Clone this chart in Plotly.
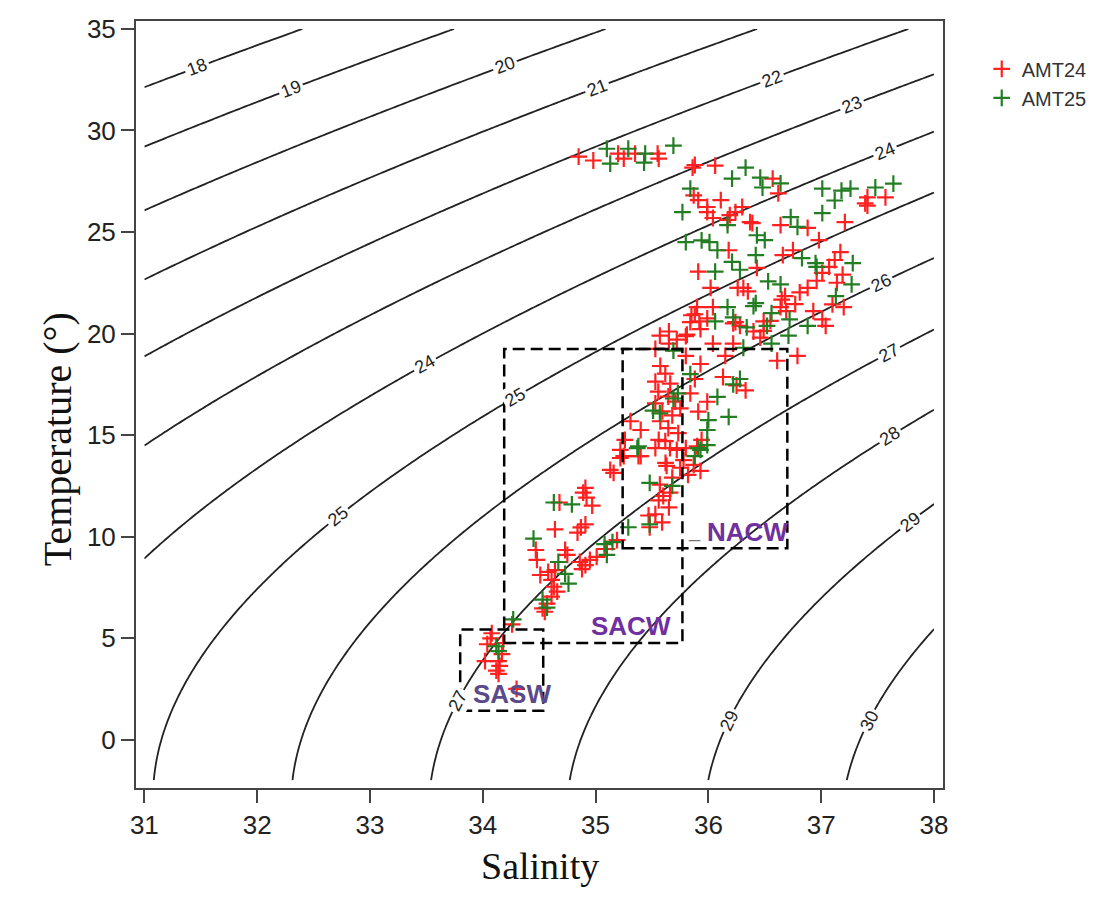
import math
import numpy as np
import plotly.graph_objects as go

# ---------------- data ----------------
amt24_sal = [
    34.85, 34.98, 35.20, 35.25, 35.35, 35.55, 35.56,
    35.86, 35.88, 36.06, 36.57, 36.62, 35.87, 35.91, 36.11, 35.99, 36.04, 36.19, 36.24, 36.17,
    36.30, 36.37, 36.39, 36.64, 36.88, 37.21, 37.41, 37.41, 37.57, 37.39, 36.98, 35.99,
    36.66, 36.75, 36.88, 36.96, 37.01, 37.07, 37.12, 37.17, 37.19, 37.14, 36.68, 36.77, 36.64,
    36.81, 36.31, 36.35, 36.26, 36.02, 35.91, 36.18, 36.43, 37.10, 37.20, 36.93, 37.01, 37.04,
    36.55, 36.22, 36.49, 36.04, 35.90, 36.24, 36.28, 36.49, 36.65, 36.69, 36.40, 36.46, 36.22,
    36.15, 36.04, 36.61, 36.79,
    35.85, 35.92, 35.99, 35.57, 35.65, 35.72, 35.81, 35.53, 35.65, 35.84, 35.93, 35.80, 35.88,
    35.93, 35.80, 35.88, 36.13, 36.33, 36.25, 35.99, 35.91, 35.94, 35.90,
    35.574, 35.618, 35.53, 35.662, 35.556, 35.645, 35.707, 35.53, 35.592, 35.68, 35.574, 35.645,
    35.733, 35.618, 35.53, 35.751, 35.84,
    35.31, 35.40, 35.26, 35.38, 35.22, 35.56, 35.72, 35.78, 35.63, 35.25, 35.13, 35.22,
    35.40, 35.66, 35.80, 35.16, 35.62, 35.75, 35.87, 35.68, 35.82, 35.93, 35.57, 35.66, 35.56,
    35.65, 35.53, 35.59, 35.48, 35.47, 35.60, 35.19, 35.08,
    34.68, 34.89, 34.92, 34.97, 34.91, 34.64, 34.84, 34.91, 34.87, 34.47, 34.48, 34.73, 34.75,
    34.51, 34.58, 34.64, 34.61, 34.63, 34.66, 34.61, 34.57, 34.55, 34.88, 34.95, 35.01, 34.91,
    35.10, 34.86, 34.53, 34.26, 34.08,
    34.07, 34.04, 34.18, 34.17, 34.02, 34.14, 34.15, 34.14, 34.12, 34.30,
]
amt24_temp = [
    28.71, 28.52, 28.86, 28.61, 28.86, 28.86, 28.61,
    28.17, 28.30, 28.27, 27.63, 26.90, 26.80, 26.57, 26.57, 25.98, 25.69, 25.83, 25.98, 25.59,
    26.23, 25.49, 25.44, 25.34, 25.20, 25.49, 26.70, 26.30, 26.70, 26.41, 24.60, 26.23,
    23.86, 24.10, 22.25, 22.60, 22.99, 23.28, 23.62, 24.01, 22.90, 22.50, 21.84, 21.45, 21.30,
    22.03, 22.25, 22.08, 22.25, 22.25, 23.05, 24.10, 23.23, 21.44, 21.30, 21.10, 20.70, 20.38,
    20.62, 20.50, 20.13, 21.30, 21.30, 20.56, 20.38, 20.60, 21.67, 21.10, 20.10, 19.80, 19.50,
    18.90, 19.50, 18.66, 18.90,
    20.90, 20.60, 20.75, 19.90, 20.10, 19.70, 19.95, 19.24, 19.50, 20.56, 20.22, 19.87, 20.95,
    18.50, 18.90, 17.76, 17.86, 17.20, 17.44, 16.64, 16.15, 14.76, 14.45,
    18.40, 18.03, 17.63, 17.53, 17.14, 16.90, 16.65, 16.56, 16.17, 15.97, 15.68, 15.34,
    15.10, 14.70, 14.36, 16.31, 17.05,
    15.68, 15.25, 14.76, 13.96, 13.87, 14.76, 14.27, 13.77, 13.48, 13.96, 13.29, 14.27,
    13.96, 14.36, 14.36, 13.14, 13.63, 13.39, 13.53, 12.90, 13.04, 13.24, 12.56, 12.17, 11.78,
    11.44, 11.10, 10.70, 10.46, 11.04, 12.00, 9.83, 9.39,
    11.68, 12.17, 11.92, 11.53, 12.40, 10.36, 10.20, 10.60, 10.45, 9.34, 8.85, 9.34, 9.10,
    8.11, 8.26, 8.35, 7.87, 7.53, 7.29, 7.04, 6.70, 6.30, 8.40, 8.85, 9.00, 8.60,
    9.39, 8.75, 6.47, 5.68, 5.24,
    4.99, 4.70, 4.75, 4.21, 3.87, 3.87, 3.63, 3.24, 3.40, 2.50,
]

amt25_sal = [
    35.10, 35.13, 35.29, 35.44, 35.43, 35.69,
    36.33, 36.21, 36.46, 36.48, 36.64, 35.84, 36.17, 35.77, 35.80, 35.94, 36.01, 36.43, 36.50,
    36.73, 36.79, 37.01, 37.01, 37.12, 37.18, 37.26, 37.48, 37.64,
    36.83, 37.28, 37.27, 36.96, 36.53, 36.64, 36.06, 36.08, 36.21, 36.28, 36.42, 36.95, 37.13,
    36.88, 36.71, 36.22, 36.42, 36.52, 36.06, 36.17, 36.40, 36.34, 36.56, 36.72, 36.56, 36.31,
    35.69, 35.84, 36.28, 36.22, 36.08, 36.18, 36.00, 35.99, 35.93, 35.73, 35.51, 35.38, 35.88,
    35.99, 35.69, 35.57,
    35.37, 35.91, 35.48, 35.68, 35.48, 35.29, 35.10, 35.08, 35.15,
    34.79, 34.45, 34.67, 34.73, 34.76, 34.53, 34.57, 34.27, 34.63,
    34.14, 34.12,
]
amt25_temp = [
    29.10, 28.37, 29.10, 28.86, 28.42, 29.25,
    28.17, 27.63, 27.68, 27.19, 27.39, 27.14, 25.34, 25.98, 24.50, 24.59, 24.50, 24.84, 24.60,
    25.73, 25.25, 25.93, 27.14, 26.55, 27.04, 27.14, 27.19, 27.38,
    23.71, 23.47, 22.42, 23.28, 22.57, 22.42, 23.05, 24.10, 23.53, 23.14, 23.86, 23.47, 21.84,
    20.38, 19.90, 20.80, 21.50, 20.38, 20.60, 21.30, 21.35, 20.30, 21.00, 20.70, 19.50, 19.30,
    19.16, 18.00, 17.76, 17.50, 16.88, 15.90, 15.74, 15.25, 14.27, 17.05, 16.20, 14.45, 13.96,
    14.50, 16.80, 16.07,
    14.36, 14.36, 12.65, 12.50, 10.60, 10.46, 9.10, 9.63, 9.73,
    11.59, 9.90, 8.75, 8.16, 7.68, 6.90, 6.50, 5.92, 11.68,
    4.36, 4.60,
]

water_masses = ["SASW", "SACW", "NACW"]
sigma_levels = dict(start=18, end=30, size=1)
sal_ticks = [31, 32, 33, 34, 35, 36, 37, 38]
temp_ticks = [0, 5, 10, 15, 20, 25, 30, 35]

# contour-label placement: (level, salinity or None, temperature or None)
contour_labels = [
    (18, 31.47, None), (19, 32.30, None), (20, 34.20, None), (21, 35.01, None),
    (22, 36.56, None), (23, 37.27, None), (24, 37.57, None), (24, 33.49, None),
    (25, 34.29, None), (25, 32.72, None), (26, 37.53, None), (27, 37.60, None),
    (28, 37.61, None), (29, 37.79, None), (29, None, 0.94), (30, None, 0.94),
    (27, None, 1.9),
]

X_RANGE = [30.926, 38.08]
Y_RANGE = [-2.38, 35.39]
PLOT_W, PLOT_H = 807, 774


# ---------------- density background (UNESCO EOS-80, p = 0) ----------------
def sigma_t_fn(s, t):
    rho_w = (999.842594 + 6.793952e-2 * t - 9.095290e-3 * t**2 + 1.001685e-4 * t**3
             - 1.120083e-6 * t**4 + 6.536332e-9 * t**5)
    a = 8.24493e-1 - 4.0899e-3 * t + 7.6438e-5 * t**2 - 8.2467e-7 * t**3 + 5.3875e-9 * t**4
    b = -5.72466e-3 + 1.0227e-4 * t - 1.6546e-6 * t**2
    return rho_w + a * s + b * s**1.5 + 4.8314e-4 * s**2 - 1000.0


S = np.linspace(31, 38, 141)
T = np.linspace(-2, 35, 186)
SS, TT = np.meshgrid(S, T)
sigma_t = sigma_t_fn(SS, TT)


def solve(level, s=None, t=None):
    if s is not None:
        lo, hi = -2.0, 35.0  # sigma decreases with T
        for _ in range(60):
            mid = 0.5 * (lo + hi)
            if sigma_t_fn(s, mid) > level:
                lo = mid
            else:
                hi = mid
        return s, 0.5 * (lo + hi)
    lo, hi = 31.0, 38.0  # sigma increases with S
    for _ in range(60):
        mid = 0.5 * (lo + hi)
        if sigma_t_fn(mid, t) < level:
            lo = mid
        else:
            hi = mid
    return 0.5 * (lo + hi), t


px_s = PLOT_W / (X_RANGE[1] - X_RANGE[0])
px_t = PLOT_H / (Y_RANGE[1] - Y_RANGE[0])

fig = go.Figure()
fig.add_trace(go.Contour(
    x=S, y=T, z=sigma_t,
    contours=dict(start=sigma_levels["start"], end=sigma_levels["end"], size=sigma_levels["size"],
                  coloring="lines", showlabels=False),
    colorscale=[[0, "#222"], [1, "#222"]], showscale=False,
    line=dict(width=1.8), hoverinfo="skip", showlegend=False,
))

fig.add_trace(go.Scatter(
    x=amt24_sal, y=amt24_temp, mode="markers", name="AMT24",
    marker=dict(symbol="cross-thin", size=12, line=dict(width=2.2, color="#ff2020"), color="#ff2020"),
))
fig.add_trace(go.Scatter(
    x=amt25_sal, y=amt25_temp, mode="markers", name="AMT25",
    marker=dict(symbol="cross-thin", size=12, line=dict(width=2.2, color="#237d23"), color="#237d23"),
))

# contour labels, placed on the lines and rotated along them
for level, s_pos, t_pos in contour_labels:
    s0, t0 = solve(level, s_pos, t_pos)
    h = 1e-3
    gs = (sigma_t_fn(s0 + h, t0) - sigma_t_fn(s0 - h, t0)) / (2 * h)
    gt = (sigma_t_fn(s0, t0 + h) - sigma_t_fn(s0, t0 - h)) / (2 * h)
    dx = gt * px_s
    dy = gs * px_t  # screen y grows downward: -(-gs)
    ang = math.degrees(math.atan2(dy, dx))
    if ang > 90:
        ang -= 180
    elif ang <= -90:
        ang += 180
    fig.add_annotation(x=s0, y=t0, text=str(level), showarrow=False, textangle=ang,
                       bgcolor="white", borderpad=2,
                       font=dict(size=18, color="#222", family="Liberation Sans, Arial"))

# water-mass boxes
boxes = [(33.80, 34.536, 1.43, 5.43), (34.19, 35.77, 4.76, 19.24), (35.24, 36.70, 9.43, 19.24)]
for x0, x1, y0, y1 in boxes:
    fig.add_shape(type="rect", x0=x0, x1=x1, y0=y0, y1=y1, xref="x", yref="y",
                  line=dict(color="black", width=2.5, dash="12px,6px"), fillcolor="rgba(0,0,0,0)")

label_pos = [(34.26, 2.26, "#5a4a8a"), (35.31, 5.58, "#7030a0"), (36.35, 10.22, "#7030a0")]
for name, (lx, ly, col) in zip(water_masses, label_pos):
    fig.add_annotation(x=lx, y=ly, text="<b>" + name + "</b>", showarrow=False,
                       font=dict(size=26, color=col, family="Liberation Sans, Arial"))
fig.add_annotation(x=35.88, y=10.3, text="_", showarrow=False,
                   font=dict(size=20, color="#777", family="Liberation Sans, Arial"))

axis_common = dict(showgrid=False, zeroline=False, showline=True, mirror=True,
                   linecolor="#444", linewidth=2, ticks="outside", ticklen=13, tickwidth=2,
                   tickcolor="#444",
                   tickfont=dict(size=26, color="#222", family="Liberation Sans, Arial"))
fig.update_xaxes(range=X_RANGE, tickvals=sal_ticks, **axis_common)
fig.update_yaxes(range=Y_RANGE, tickvals=temp_ticks, **axis_common)

fig.add_annotation(xref="paper", yref="paper", x=0.5, y=-0.132, text="Salinity",
                   showarrow=False, font=dict(size=38, color="#111", family="Liberation Serif, Times New Roman"))
fig.add_annotation(xref="paper", yref="paper", x=-0.128, y=0.455, text="Temperature (°)",
                   textangle=-90, showarrow=False,
                   font=dict(size=40, color="#111", family="Liberation Serif, Times New Roman"))

fig.update_layout(
    width=1094, height=910,
    margin=dict(l=128, r=159, t=6, b=130),
    plot_bgcolor="white", paper_bgcolor="white",
    legend=dict(x=1.048, y=0.963, xanchor="left", yanchor="top", bgcolor="rgba(0,0,0,0)",
                font=dict(size=20, color="#333", family="Liberation Sans, Arial"),
                tracegroupgap=0, itemwidth=30),
    showlegend=True,
)

fig.write_html("out.html")
